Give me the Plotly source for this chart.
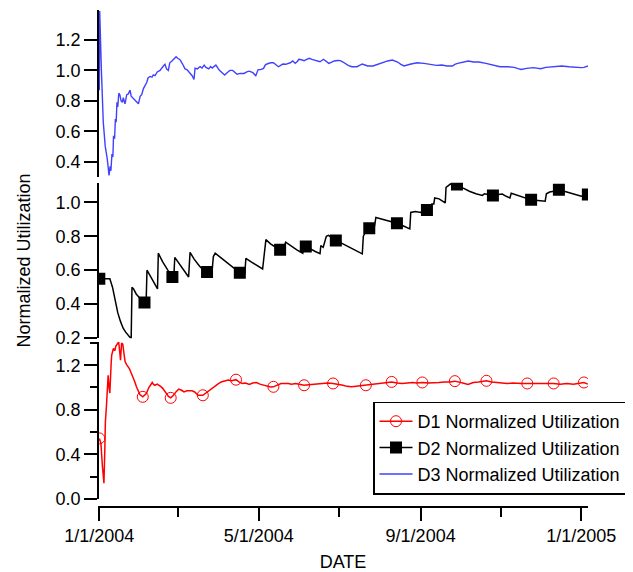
import pandas as pd
import plotly.graph_objects as go

BASE = pd.Timestamp("2004-01-01")

# ---------------- D1 (red, bottom panel) ----------------
d1_day = [0, 1.2, 2.3, 3.5, 4.2, 4.6, 5.5, 6.7, 7.4, 8.0, 9.0, 9.4, 10.7, 11.8, 12.5, 13.4, 14.7, 15.5,
          16.1, 16.9, 17.8, 19.0, 19.6, 21.0, 22.8, 24.2, 25.5, 27.0, 28.2, 29.5, 30.8, 33.0, 34.5, 35.7,
          37.5, 39.0, 40.2, 41.0, 42.1, 44.0, 45.6, 47.0, 48.3, 50.0, 51.0, 52.5, 54.2, 56.3, 58.5, 60.3,
          62.5, 64.3, 66.5, 68.4, 70.5, 72.4, 75.0, 78.6, 81.8, 84.5, 87.1, 90.0, 92.5, 95.0, 97.9, 100.5,
          103.8, 106.0, 108.6, 111.0, 113.9, 116.5, 119.3, 122.0, 124.7, 127.5, 130.0, 132.2, 135.0, 138.0,
          143.4, 146.0, 149.0, 152.0, 155.5, 159.0, 163.0, 166.0, 170.2, 173.5, 177.5, 181.0, 185.0, 188.0,
          191.7, 195.0, 198.0, 202.4, 206.0, 210.5, 215.0, 218.0, 222.0, 226.0, 230.0, 234.0, 238.0, 241.0,
          245.3, 250.0, 254.0, 258.0, 262.0, 266.0, 270.0, 273.0, 276.0, 280.0, 284.0, 288.0, 294.0, 298.0,
          302.0, 306.0, 309.7, 314.0, 318.0, 321.0, 325.0, 330.0, 335.0, 340.0, 345.0, 350.0, 355.0, 360.0,
          364.0, 368.0, 371.0]
d1_val = [0.543, 0.50, 0.30, 0.14, 0.45, 0.69, 0.85, 1.11, 1.00, 0.95, 1.22, 1.29, 1.35, 1.33, 1.37, 1.39, 1.41, 1.32,
          1.245, 1.40, 1.39, 1.28, 1.23, 1.20, 1.17, 1.13, 1.095, 1.05, 1.006, 0.97, 0.937, 0.916, 0.93, 0.946,
          0.997, 1.03, 1.045, 1.03, 1.02, 1.03, 1.02, 1.005, 0.99, 0.96, 0.937, 0.92, 0.907, 0.93, 0.965, 0.985,
          0.975, 0.96, 0.97, 0.967, 0.97, 0.96, 0.93, 0.93, 0.96, 0.98, 1.006, 1.03, 1.05, 1.06, 1.066, 1.06,
          1.07, 1.05, 1.036, 1.04, 1.027, 1.04, 1.045, 1.03, 1.02, 1.01, 1.005, 1.006, 1.02, 1.035,
          1.036, 1.03, 1.036, 1.03, 1.02, 1.025, 1.03, 1.028, 1.036, 1.04, 1.036, 1.03, 1.02, 1.01,
          1.006, 1.01, 1.015, 1.02, 1.03, 1.036, 1.04, 1.045, 1.05, 1.04, 1.035, 1.04, 1.045, 1.04,
          1.045, 1.04, 1.04, 1.045, 1.05, 1.05, 1.057, 1.045, 1.04, 1.027, 1.045, 1.05, 1.06, 1.05,
          1.045, 1.04, 1.036, 1.04, 1.035, 1.036, 1.036, 1.035, 1.04, 1.036, 1.036, 1.03, 1.035, 1.03,
          1.04, 1.045, 1.03]
d1_marker_days = [0, 33.0, 54.2, 78.6, 103.8, 132.2, 155.5, 177.5, 202.4, 222.0, 245.3, 270.0, 294.0,
                  325.0, 345.0, 368.0]

# ---------------- D2 (black, middle panel) ----------------
d2_day = [0, 8.0, 10.0, 12.0, 14.0, 16.0, 18.0, 20.0, 22.0, 24.2, 24.8, 26.0, 28.0, 30.0, 32.0, 34.3, 35.5,
          36.2, 40.0, 44.2, 44.8, 48.0, 52.0, 55.5, 56.5, 57.3, 60.0, 64.0, 67.8, 68.9, 72.0, 76.0, 79.0,
          81.8, 85.5, 86.6, 88.0, 92.0, 96.0, 100.0, 101.9, 104.0, 106.7, 110.5, 111.3, 115.0, 119.0,
          124.0, 126.5, 130.0, 134.0, 137.3, 139.0, 141.5, 145.0, 150.0, 154.5, 155.2, 156.8, 160.0,
          164.0, 167.6, 168.2, 170.0, 172.4, 174.0, 179.6, 185.0, 190.0, 195.0, 199.7, 200.5, 202.5,
          205.0, 209.0, 210.0, 215.0, 220.0, 226.0, 231.0, 235.8, 236.5, 240.0, 244.0, 246.5, 248.8,
          251.5, 252.5, 254.0, 254.7, 258.0, 262.7, 263.3, 266.8, 271.6, 276.0, 281.0, 286.0, 290.9,
          292.5, 295.5, 298.9, 303.0, 306.0, 309.0, 311.8, 312.8, 316.0, 320.0, 324.0, 327.9, 333.0,
          338.6, 339.5, 342.0, 345.0, 349.0, 355.0, 360.0, 366.0, 371.0]
d2_val = [0.549, 0.549, 0.50, 0.42, 0.35, 0.30, 0.26, 0.235, 0.215, 0.196, 0.50, 0.49, 0.46, 0.44, 0.425, 0.41, 0.40,
          0.60, 0.55, 0.49, 0.70, 0.65, 0.60, 0.56, 0.55, 0.675, 0.645, 0.60, 0.56, 0.705, 0.665, 0.625, 0.60,
          0.59, 0.585, 0.68, 0.70, 0.675, 0.65, 0.625, 0.612, 0.60, 0.585, 0.58, 0.67, 0.65, 0.63,
          0.607, 0.78, 0.755, 0.735, 0.72, 0.71, 0.765, 0.745, 0.72, 0.70, 0.745, 0.74, 0.725,
          0.71, 0.697, 0.745, 0.735, 0.80, 0.805, 0.775, 0.755, 0.735, 0.715, 0.696, 0.80, 0.83,
          0.847, 0.86, 0.91, 0.90, 0.89, 0.876, 0.86, 0.843, 0.94, 0.945, 0.94, 0.96, 0.955,
          0.965, 0.99, 0.99, 1.025, 1.02, 0.996, 1.088, 1.108, 1.104, 1.085, 1.065, 1.05, 1.04,
          1.05, 1.045, 1.04, 1.045, 1.048, 1.035, 1.025, 1.053, 1.045, 1.035, 1.025, 1.014, 1.01,
          1.006, 1.05, 1.06, 1.065, 1.073, 1.06, 1.05, 1.035, 1.045]
d2_marker_days = [0, 34.3, 55.5, 81.8, 106.7, 137.3, 156.8, 179.6, 205.0, 226.0, 248.8, 271.6, 298.9,
                  327.9, 349.0, 371.0]

# ---------------- D3 (blue, top panel) ----------------
d3_day = [0, 0.3, 1.5, 3.0, 4.5, 6.0, 7.4, 8.2, 8.8, 9.6, 10.3, 10.8, 11.6, 12.2, 12.8, 13.4, 14.0, 14.8,
          15.6, 16.5, 17.5, 18.2, 19.5, 20.8, 22.0, 23.3, 24.2, 25.4, 27.5, 29.7, 31.0, 32.2, 33.5, 34.7,
          36.0, 37.0, 38.5, 40.0, 41.0, 42.3, 44.0, 46.1, 47.5, 48.8, 49.9, 51.0, 52.4, 53.5, 55.0, 56.5,
          58.3, 59.5, 61.3, 63.0, 65.1, 66.5, 68.9, 70.5, 71.9, 72.7, 74.5, 76.5, 78.0, 79.6, 81.0, 83.1,
          84.5, 85.8, 87.0, 88.5, 91.2, 93.0, 95.2, 97.0, 99.2, 101.3, 103.0, 104.6, 107.0, 109.9, 112.0,
          113.9, 116.6, 118.8, 120.6, 122.5, 124.7, 126.0, 127.3, 130.0, 132.2, 134.0, 136.0, 138.0, 139.4,
          141.5, 143.4, 145.0, 146.9, 148.8, 150.5, 151.5, 153.5, 155.5, 157.5, 159.5, 161.5, 163.5, 165.5,
          167.6, 170.2, 172.0, 174.3, 176.5, 178.3, 181.0, 183.1, 185.0, 186.9, 189.0, 191.7, 195.7, 199.7,
          201.5, 203.8, 207.8, 211.8, 215.8, 219.0, 222.5, 226.5, 229.0, 231.4, 235.9, 241.3, 246.6, 250.7,
          256.0, 260.0, 264.1, 268.1, 270.0, 272.1, 276.1, 280.2, 284.2, 288.2, 293.6, 299.0, 304.3, 309.7,
          315.1, 318.0, 320.4, 324.4, 329.8, 332.0, 335.1, 339.1, 345.8, 351.2, 356.6, 361.9, 364.0, 365.9,
          368.0, 370.0, 371.0]
d3_val = [0.87, 1.39, 1.02, 0.66, 0.50, 0.42, 0.31, 0.37, 0.34, 0.45, 0.43, 0.57, 0.55, 0.68, 0.66, 0.79, 0.76, 0.85,
          0.84, 0.80, 0.79, 0.82, 0.78, 0.84, 0.845, 0.87, 0.83, 0.82, 0.80, 0.78, 0.83, 0.84, 0.88, 0.90,
          0.92, 0.95, 0.96, 0.955, 0.97, 0.965, 0.99, 1.00, 1.02, 1.03, 1.04, 1.01, 1.00, 1.05, 1.06, 1.075,
          1.09, 1.08, 1.07, 1.045, 1.01, 1.005, 0.985, 0.965, 0.94, 1.015, 1.01, 1.025, 1.015, 1.035, 1.02, 1.01,
          1.025, 1.015, 1.025, 1.035, 1.00, 0.985, 0.97, 0.985, 1.00, 1.00, 0.985, 0.975, 0.98, 0.98, 0.99,
          0.995, 0.985, 0.965, 1.005, 1.005, 1.013, 1.035, 1.042, 1.05, 1.05, 1.035, 1.024, 1.035, 1.042,
          1.04, 1.046, 1.05, 1.062, 1.046, 1.06, 1.073, 1.07, 1.064, 1.072, 1.079, 1.072, 1.068, 1.062,
          1.057, 1.073, 1.06, 1.046, 1.055, 1.062, 1.065, 1.064, 1.055, 1.042, 1.033, 1.024, 1.024, 1.042,
          1.035, 1.029, 1.029, 1.042, 1.055, 1.062, 1.068, 1.055, 1.04, 1.029, 1.04, 1.05, 1.046, 1.042,
          1.033, 1.035, 1.029, 1.029, 1.04, 1.046, 1.055, 1.062, 1.055, 1.055, 1.046, 1.035, 1.024, 1.024,
          1.02, 1.012, 1.006, 1.013, 1.018, 1.015, 1.011, 1.02, 1.024, 1.029, 1.024, 1.02, 1.015, 1.018,
          1.02, 1.024, 1.029]

series_names = ["D1 Normalized Utilization", "D2 Normalized Utilization", "D3 Normalized Utilization"]


def to_dates(days):
    return [BASE + pd.Timedelta(days=float(d)) for d in days]


def marker_values(days, vals, mdays):
    return [vals[days.index(m)] for m in mdays]


FONT = "Liberation Sans, Arial, sans-serif"
RED, BLACK, BLUE = "#FF0000", "#000000", "#4040FF"

d1_marker = dict(symbol="circle-open", color=RED, size=11, line=dict(width=1))
d2_marker = dict(symbol="square", color=BLACK, size=12, line=dict(width=0))

fig = go.Figure()
# data lines
fig.add_trace(go.Scatter(x=to_dates(d1_day), y=d1_val, mode="lines", line=dict(color=RED, width=1.5),
                         showlegend=False, xaxis="x", yaxis="y"))
fig.add_trace(go.Scatter(x=to_dates(d1_marker_days), y=marker_values(d1_day, d1_val, d1_marker_days),
                         mode="markers", marker=d1_marker, showlegend=False, xaxis="x", yaxis="y"))
fig.add_trace(go.Scatter(x=to_dates(d2_day), y=d2_val, mode="lines", line=dict(color=BLACK, width=1.5),
                         showlegend=False, xaxis="x", yaxis="y2"))
fig.add_trace(go.Scatter(x=to_dates(d2_marker_days), y=marker_values(d2_day, d2_val, d2_marker_days),
                         mode="markers", marker=d2_marker, showlegend=False, xaxis="x", yaxis="y2"))
fig.add_trace(go.Scatter(x=to_dates(d3_day), y=d3_val, mode="lines", line=dict(color=BLUE, width=1.4),
                         showlegend=False, xaxis="x", yaxis="y3"))
# legend entries
fig.add_trace(go.Scatter(x=[None], y=[None], name=series_names[0], mode="lines+markers",
                         line=dict(color=RED, width=1.5), marker=d1_marker, xaxis="x", yaxis="y"))
fig.add_trace(go.Scatter(x=[None], y=[None], name=series_names[1], mode="lines+markers",
                         line=dict(color=BLACK, width=1.5), marker=d2_marker, xaxis="x", yaxis="y2"))
fig.add_trace(go.Scatter(x=[None], y=[None], name=series_names[2], mode="lines",
                         line=dict(color=BLUE, width=1.4), xaxis="x", yaxis="y3"))

# The page body adds an 8 px offset; layout values below are given in screen pixels.
OFF = 8
W, H = 633 - OFF, 572 - OFF
ml, mt = 98 - OFF, 10 - OFF
mr = W - (627 - OFF)
mb = 12
pw = W - ml - mr
ph = H - mt - mb
X_END = 588.0


def py(px):
    return (H - mb - (px - OFF)) / ph


def pxf(px):
    return (px - OFF - ml) / pw


yax_common = dict(showline=True, linecolor="black", linewidth=1.5, ticks="outside", ticklen=13,
                  tickwidth=1.5, tickcolor="black", showgrid=False, zeroline=False,
                  tickfont=dict(family=FONT, size=18, color="black"), tickformat=".1f",
                  anchor="free", position=0)

fig.update_layout(
    width=W, height=H,
    margin=dict(l=ml, r=mr, t=mt, b=mb, autoexpand=False),
    paper_bgcolor="white", plot_bgcolor="white",
    font=dict(family=FONT, size=18, color="black"),
    showlegend=True,
    legend=dict(x=pxf(627), xanchor="right", y=py(448), yanchor="middle",
                bordercolor="black", borderwidth=1.5, bgcolor="white",
                font=dict(family=FONT, size=18, color="black"), itemsizing="trace",
                itemwidth=33, tracegroupgap=0),
    xaxis=dict(domain=[0, pxf(X_END)], anchor="free", position=py(507),
               range=[BASE - pd.Timedelta(days=1), BASE + pd.Timedelta(days=371.1)],
               type="date", showline=True, linecolor="black", linewidth=1.5,
               ticks="outside", ticklen=13, tickwidth=1.5, tickcolor="black",
               tick0="2004-01-01", dtick="M4", tickformat="%-m/%-d/%Y",
               minor=dict(ticks="outside", ticklen=9, tickwidth=1.5, tickcolor="black",
                          dtick="M2", tick0="2004-01-01", showgrid=False),
               showgrid=False, zeroline=False,
               tickfont=dict(family=FONT, size=18, color="black"),
               title=dict(text="DATE", font=dict(family=FONT, size=18, color="black"), standoff=9)),
    yaxis=dict(domain=[py(499), py(341.7)], range=[-0.001, 1.411], tick0=0, dtick=0.4,
               minor=dict(ticks="outside", ticklen=7, tickwidth=1.5, tickcolor="black", dtick=0.2,
                          tick0=0, showgrid=False),
               **yax_common),
    yaxis2=dict(domain=[py(338.3), py(182.7)], range=[0.199, 1.115], tick0=0, dtick=0.2, **yax_common),
    yaxis3=dict(domain=[py(176.7), py(10.0)], range=[0.301, 1.397], tick0=0, dtick=0.2, **yax_common),
    annotations=[dict(text="Normalized Utilization", xref="paper", yref="paper",
                      x=pxf(23), y=py(260.5), textangle=-90, showarrow=False,
                      xanchor="center", yanchor="middle",
                      font=dict(family=FONT, size=18, color="black"))],
)

fig.write_html("out.html")
